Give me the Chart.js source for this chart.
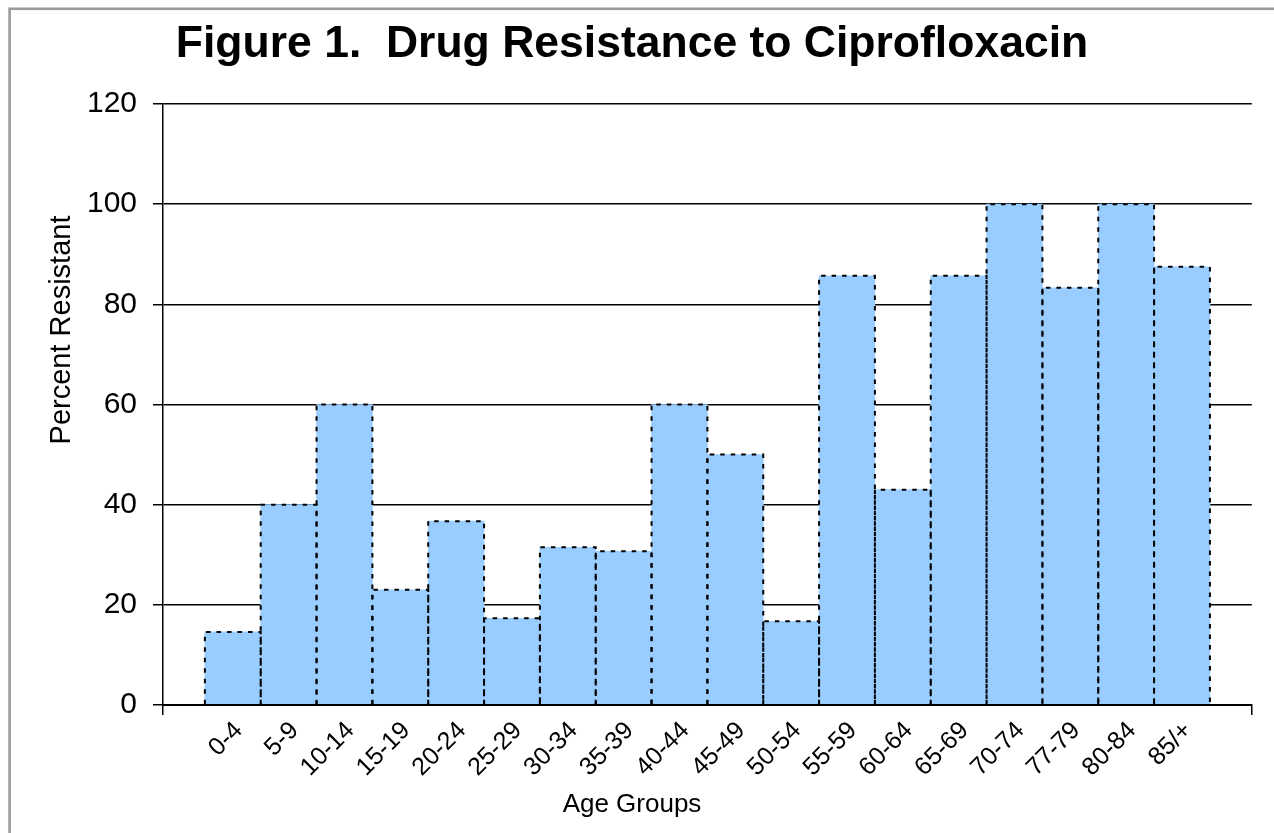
<!DOCTYPE html>
<html>
<head>
<meta charset="utf-8">
<title>Drug Resistance to Ciprofloxacin</title>
<style>
  html, body { margin: 0; padding: 0; background: #fff; }
  #wrap { width: 1274px; height: 833px; }
</style>
<script src="https://cdn.jsdelivr.net/npm/chart.js@4/dist/chart.umd.min.js"></script>
</head>
<body>
<div id="wrap"><canvas id="chart" width="1274" height="833"></canvas></div>
<script>
// Age groups and the share of isolates resistant to ciprofloxacin (%)
const ageGroups = ['0-4', '5-9', '10-14', '15-19', '20-24', '25-29', '30-34', '35-39', '40-44',
                   '45-49', '50-54', '55-59', '60-64', '65-69', '70-74', '77-79', '80-84', '85/+'];
const percentResistant = [14.6, 40, 60, 23, 36.7, 17.3, 31.5, 30.7, 60,
                          50, 16.7, 85.7, 43, 85.7, 100, 83.3, 100, 87.5];
const yTicks = [0, 20, 40, 60, 80, 100, 120];

const FONT = "'Liberation Sans', Arial, Helvetica, sans-serif";
// x runs on a linear scale so the bars touch while leaving a margin at both ends
const X_MIN = -1.25;
const X_MAX = ageGroups.length - 1 + 1.25;

// white page with a grey frame along the top and left
const framePlugin = {
  id: 'frame',
  beforeDraw(chart) {
    const ctx = chart.ctx;
    ctx.save();
    ctx.fillStyle = '#ffffff';
    ctx.fillRect(0, 0, chart.width, chart.height);
    ctx.strokeStyle = '#9a9a9a';
    ctx.lineWidth = 2.6;
    ctx.strokeRect(9.6, 8.8, chart.width + 20, chart.height + 20);
    ctx.restore();
  }
};

// dotted outlines on each bar, then the category axis line on top of them
const dottedBarsPlugin = {
  id: 'dottedBars',
  afterDatasetsDraw(chart) {
    const ctx = chart.ctx;
    const meta = chart.getDatasetMeta(0);
    ctx.save();
    ctx.strokeStyle = '#000';
    ctx.lineWidth = 2;
    ctx.setLineDash([4.5, 6]);
    meta.data.forEach(bar => {
      const p = bar.getProps(['x', 'y', 'base', 'width'], true);
      const l = p.x - p.width / 2, r = p.x + p.width / 2;
      ctx.beginPath();
      ctx.moveTo(l, p.base);
      ctx.lineTo(l, p.y);
      ctx.lineTo(r, p.y);
      ctx.lineTo(r, p.base);
      ctx.stroke();
    });
    ctx.setLineDash([]);
    const a = chart.chartArea;
    ctx.lineWidth = 2;
    ctx.beginPath();
    ctx.moveTo(a.left, a.bottom);
    ctx.lineTo(a.right, a.bottom);
    ctx.stroke();
    ctx.restore();
  }
};

// value-axis caption, placed a little above the middle of the plot
const yCaptionPlugin = {
  id: 'yCaption',
  afterDraw(chart) {
    const ctx = chart.ctx;
    ctx.save();
    ctx.translate(70, 330);
    ctx.rotate(-Math.PI / 2);
    ctx.fillStyle = '#000';
    ctx.font = '29px ' + FONT;
    ctx.textAlign = 'center';
    ctx.textBaseline = 'alphabetic';
    ctx.fillText('Percent Resistant', 0, 0);
    ctx.restore();
  }
};

new Chart(document.getElementById('chart'), {
  type: 'bar',
  data: {
    datasets: [{
      data: ageGroups.map((g, i) => ({ x: i, y: percentResistant[i] })),
      backgroundColor: '#99CCFF',
      borderWidth: 0,
      barPercentage: 1,
      categoryPercentage: 1
    }]
  },
  options: {
    responsive: false,
    animation: false,
    devicePixelRatio: 1,
    layout: { padding: { top: 18, left: 10, right: 20, bottom: 12.4 } },
    plugins: {
      legend: { display: false },
      tooltip: { enabled: false },
      title: {
        display: true,
        text: 'Figure 1.  Drug Resistance to Ciprofloxacin',
        color: '#000',
        font: { family: FONT, size: 44.5, weight: 'bold', lineHeight: 1.2 },
        padding: { top: 0, bottom: 32.6 }
      },
      subtitle: {
        display: true,
        position: 'bottom',
        text: 'Age Groups',
        color: '#000',
        font: { family: FONT, size: 26, weight: 'normal', lineHeight: 1.2 },
        padding: 0
      }
    },
    scales: {
      x: {
        type: 'linear',
        min: X_MIN,
        max: X_MAX,
        offset: false,
        afterBuildTicks(scale) {
          scale.ticks = [X_MIN, ...ageGroups.map((g, i) => i), X_MAX].map(v => ({ value: v }));
        },
        afterFit(scale) { scale.height = 84.4; },
        grid: {
          display: true,
          offset: false,
          drawOnChartArea: false,
          drawTicks: true,
          tickLength: 10,
          lineWidth: 1.5,
          color: c => (c.tick && (c.tick.value === X_MIN || c.tick.value === X_MAX)) ? '#000' : 'rgba(0,0,0,0)'
        },
        border: { display: true, color: '#000', width: 2 },
        ticks: {
          autoSkip: false,
          maxRotation: 45,
          minRotation: 45,
          padding: 1,
          labelOffset: 6,
          color: '#000',
          font: { family: FONT, size: 25 },
          callback: v => (Number.isInteger(v) && v >= 0 && v < ageGroups.length) ? ageGroups[v] : ''
        }
      },
      y: {
        min: 0,
        max: 120,
        afterBuildTicks(scale) {
          scale.ticks = yTicks.map(v => ({ value: v }));
        },
        afterFit(scale) { scale.width = 153; },
        grid: {
          color: '#000',
          lineWidth: 1.5,
          drawTicks: true,
          tickLength: 10
        },
        border: { display: true, color: '#000', width: 1.5 },
        ticks: {
          padding: 16,
          color: '#000',
          font: { family: FONT, size: 30 }
        }
      }
    }
  },
  plugins: [framePlugin, dottedBarsPlugin, yCaptionPlugin]
});
</script>
</body>
</html>
